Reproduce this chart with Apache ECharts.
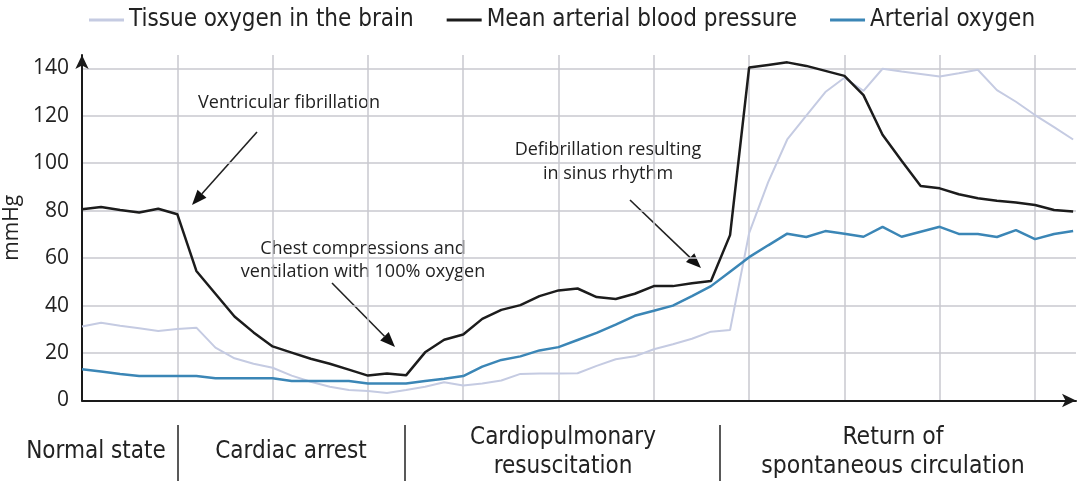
<!DOCTYPE html>
<html><head><meta charset="utf-8">
<script src="https://cdn.jsdelivr.net/npm/echarts@6/dist/echarts.min.js"></script>
<style>html,body{margin:0;padding:0;background:#fff}#c{width:1080px;height:482px}</style>
</head><body><div id="c"></div>
<script>
// ---- data ----
const seriesNames = ['Tissue oxygen in the brain', 'Mean arterial blood pressure', 'Arterial oxygen'];
const timeSteps = Array.from({length: 53}, (_, i) => i); // sample index along the time axis
const tissueOxygen = [31.2,32.8,31.5,30.4,29.3,30.1,30.7,22.3,17.8,15.5,
  13.8,10.5,7.9,5.8,4.4,4.0,3.2,4.4,5.8,7.7,
  6.3,7.2,8.4,11.2,11.4,11.4,11.5,14.6,17.4,18.6,
  21.6,23.7,26,29,29.7,70.5,92,110,120,130,
  136,130.5,139.8,138.6,137.6,136.5,137.9,139.4,130.8,125.9,
  120.3,115.2,110];
const meanArterialPressure = [80.6,81.5,80.3,79.2,80.8,78.5,54.6,45,35.4,28.7,
  22.8,20.2,17.6,15.5,13,10.5,11.4,10.6,20.3,25.6,
  27.8,34.4,38.2,40.2,44,46.4,47.2,43.6,42.8,45,
  48.2,48.2,49.4,50.4,69.7,140.3,141.4,142.5,141,138.9,
  136.8,128.7,112,101,90.4,89.4,86.9,85.2,84.2,83.4,
  82.4,80.3,79.6];
const arterialOxygen = [13.2,12.2,11.2,10.3,10.3,10.3,10.3,9.4,9.4,9.4,
  9.4,8.2,8.2,8.2,8.2,7.2,7.2,7.2,8.2,9.2,
  10.3,14.3,17.1,18.6,21.1,22.5,25.5,28.5,32,35.7,
  37.8,40,44,48.2,54.3,60.4,65.4,70.3,68.9,71.4,
  70.3,69,73.2,69,71.1,73.2,70.2,70.2,68.9,71.8,
  68,70.2,71.4];
const yTicks = [0, 20, 40, 60, 80, 100, 120, 140];
const yAxisName = 'mmHg';
const phaseLabels = ['Normal state', 'Cardiac arrest', 'Cardiopulmonary\nresuscitation', 'Return of\nspontaneous circulation'];
const annotationTexts = ['Ventricular fibrillation', 'Chest compressions and\nventilation with 100% oxygen', 'Defibrillation resulting\nin sinus rhythm'];

// ---- styling / layout ----
const colors = ['#c5cbe2', '#1c1c1c', '#3b86b6'];
const condFont = '"DejaVu Sans Condensed", "Liberation Sans Narrow", sans-serif';
const mainFont = '"Open Sans", sans-serif';

function pairs(vals) { return timeSteps.map((t, i) => [t, vals[i]]); }

function arrow(x1, y1, x2, y2) {
  const a = Math.atan2(y2 - y1, x2 - x1), L = 15, W = 6;
  const bx = x2 - L * Math.cos(a), by = y2 - L * Math.sin(a);
  const px = -Math.sin(a) * W, py = Math.cos(a) * W;
  return [
    {type: 'line', shape: {x1, y1, x2: bx, y2: by}, style: {stroke: '#222', lineWidth: 1.6}},
    {type: 'polygon', shape: {points: [[x2, y2], [bx + px, by + py], [bx - px, by - py]]}, style: {fill: '#111'}}
  ];
}

const txt = (x, y, text, size, font, lh) => ({
  type: 'text', x, y,
  style: {text, font: size + 'px ' + font, fill: '#222', textAlign: 'center', textVerticalAlign: 'middle', lineHeight: lh || size * 1.3}
});

const graphics = [
  txt(289, 103, annotationTexts[0], 18, mainFont),
  txt(363, 260.5, annotationTexts[1], 18, mainFont, 23.5),
  txt(608, 162, annotationTexts[2], 18, mainFont, 24),
  ...arrow(257, 132, 192, 205),
  ...arrow(332, 283, 395, 347),
  ...arrow(630, 200, 701, 268),
  txt(96, 452, phaseLabels[0], 24, condFont),
  txt(291, 452, phaseLabels[1], 24, condFont),
  txt(563, 452, phaseLabels[2], 24, condFont, 29),
  txt(893, 452, phaseLabels[3], 24.5, condFont, 29),
  {type: 'line', shape: {x1: 178, y1: 425, x2: 178, y2: 481}, style: {stroke: '#222', lineWidth: 1.5}},
  {type: 'line', shape: {x1: 405, y1: 425, x2: 405, y2: 481}, style: {stroke: '#222', lineWidth: 1.5}},
  {type: 'line', shape: {x1: 720, y1: 425, x2: 720, y2: 481}, style: {stroke: '#222', lineWidth: 1.5}}
];

const chart = echarts.init(document.getElementById('c'), null, {renderer: 'canvas'});
chart.setOption({
  animation: false,
  backgroundColor: '#fff',
  color: colors,
  legend: {
    left: 84, top: 3, itemGap: 33, itemWidth: 35, itemHeight: 3, icon: 'rect',
    textStyle: {fontFamily: condFont, fontSize: 24, color: '#222'},
    data: seriesNames
  },
  grid: {left: 82, right: 4, top: 55, bottom: 81.5, containLabel: false, outerBoundsMode: 'none'},
  xAxis: {
    type: 'value', min: 0, max: 52.15, interval: 5,
    axisLine: {show: true, lineStyle: {color: '#1a1a1a', width: 2}, symbol: ['none', 'arrow'], symbolSize: [10, 14]},
    axisTick: {show: false}, axisLabel: {show: false},
    splitLine: {show: true, showMinLine: false, showMaxLine: false, lineStyle: {color: '#c9c9cf', width: 1.5}}
  },
  yAxis: {
    type: 'value', min: 0, max: 145.6, interval: 20,
    name: yAxisName, nameLocation: 'middle', nameGap: 54, nameRotate: 90,
    nameTextStyle: {fontFamily: mainFont, fontSize: 21, color: '#222'},
    axisLine: {show: true, lineStyle: {color: '#1a1a1a', width: 2}, symbol: ['none', 'arrow'], symbolSize: [10, 14]},
    axisTick: {show: false},
    axisLabel: {margin: 13, fontFamily: mainFont, fontSize: 21, color: '#222',
      formatter: v => yTicks.includes(v) ? String(v) : ''},
    splitLine: {show: true, showMinLine: false, showMaxLine: false, lineStyle: {color: '#c9c9cf', width: 1.5}}
  },
  series: [
    {name: seriesNames[0], type: 'line', data: pairs(tissueOxygen), symbol: 'none', z: 2, lineStyle: {width: 2, color: colors[0]}},
    {name: seriesNames[1], type: 'line', data: pairs(meanArterialPressure), symbol: 'none', z: 4, lineStyle: {width: 2.5, color: colors[1]}},
    {name: seriesNames[2], type: 'line', data: pairs(arterialOxygen), symbol: 'none', z: 3, lineStyle: {width: 2.5, color: colors[2]}}
  ],
  graphic: graphics
});
</script></body></html>
